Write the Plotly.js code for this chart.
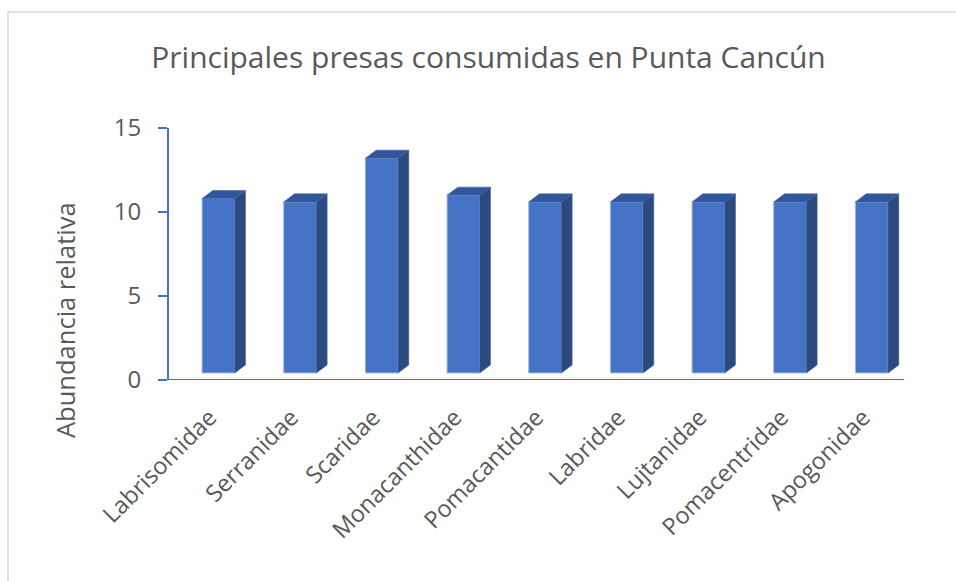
<!DOCTYPE html>
<html>
<head>
<meta charset="utf-8">
<script src="https://cdn.plot.ly/plotly-3.0.1.min.js"></script>
<style>
  html, body { margin: 0; padding: 0; background: #fff; }
  #chart { width: 956px; height: 581px; }
</style>
</head>
<body>
<div id="chart"></div>
<script>
// ---- data ----
const categories = ["Labrisomidae", "Serranidae", "Scaridae", "Monacanthidae", "Pomacantidae",
                    "Labridae", "Lujtanidae", "Pomacentridae", "Apogonidae"];
const values = [10.8, 10.6, 13.2, 11.0, 10.6, 10.6, 10.6, 10.6, 10.6];
const yTickVals = [0, 5, 10, 15];

// ---- style constants (3D look) ----
const FLOOR = 0.42;      // front face floor offset (y units)
const OFF = -0.095;      // front face left offset (x units)
const W = 0.4;           // front face width (x units)
const DX = 0.131;        // depth in x units
const DY = 0.48;         // depth in y units
const FRONT = "#4472C4", SIDE = "#2B4A80", TOP = "#30569C", EDGE = "#9DB4DE";

const idx = categories.map((_, i) => i);

const front = {
  type: "bar",
  x: idx,
  y: values.map(v => v - FLOOR),
  base: FLOOR,
  offset: OFF,
  width: W,
  marker: { color: FRONT, line: { color: EDGE, width: 1 } },
  hoverinfo: "skip",
  showlegend: false
};

const shapes = [];
values.forEach((v, i) => {
  const xl = i + OFF, xr = i + OFF + W;
  shapes.push({
    type: "path", xref: "x", yref: "y", layer: "above",
    path: `M ${xr} ${FLOOR} L ${xr + DX} ${FLOOR + DY} L ${xr + DX} ${v + DY} L ${xr} ${v} Z`,
    fillcolor: SIDE, line: { color: "#3A5A95", width: 0.6 }
  });
  shapes.push({
    type: "path", xref: "x", yref: "y", layer: "above",
    path: `M ${xl} ${v} L ${xl + DX} ${v + DY} L ${xr + DX} ${v + DY} L ${xr} ${v} Z`,
    fillcolor: TOP, line: { color: "#3F64A8", width: 0.6 }
  });
});

const L = 169, R = 904, T = 128, B = 380;
const px = p => (p - L) / (R - L);
const py = p => (B - p) / (B - T);
shapes.push({
  type: "rect", xref: "paper", yref: "paper", layer: "below",
  x0: px(8), x1: px(990), y0: py(620), y1: py(12),
  line: { color: "#D9D9D9", width: 1.5 }, fillcolor: "rgba(0,0,0,0)"
});

const FONT = "Open Sans, sans-serif";
const layout = {
  width: 956, height: 581,
  margin: { l: L, r: 956 - R, t: T, b: 581 - B, pad: 0 },
  paper_bgcolor: "#fff", plot_bgcolor: "#fff",
  font: { family: FONT, color: "#595959" },
  title: {
    text: "Principales presas consumidas en Punta Cancún",
    font: { family: FONT, size: 30, color: "#595959" },
    x: 0.511, xanchor: "center", y: 1 - 57 / 581, yanchor: "middle"
  },
  xaxis: {
    type: "linear",
    range: [-0.5, categories.length - 0.5],
    tickvals: idx, ticktext: categories,
    tickangle: -45,
    ticks: "", showgrid: false, zeroline: false,
    showline: false,
    tickfont: { family: FONT, size: 23.5, color: "#595959" },
    ticklabelstandoff: 18,
    fixedrange: true
  },
  yaxis: {
    range: [0, 15],
    tickvals: yTickVals,
    ticks: "outside", ticklen: 9, tickwidth: 2, tickcolor: FRONT,
    showline: true, linecolor: FRONT, linewidth: 2,
    showgrid: false, zeroline: false,
    tickfont: { family: FONT, size: 24, color: "#595959" },
    ticklabelstandoff: 12,
    fixedrange: true
  },
  shapes: shapes.concat([{
    type: "line", xref: "paper", yref: "y", x0: px(160), x1: 1, y0: 0, y1: 0,
    line: { color: FRONT, width: 2 }, layer: "above"
  }]),
  annotations: [{
    text: "Abundancia relativa", textangle: -90,
    xref: "paper", yref: "paper", x: px(65), y: py(320),
    xanchor: "center", yanchor: "middle", showarrow: false,
    font: { family: FONT, size: 25.5, color: "#595959" }
  }],
  bargap: 0
};

Plotly.newPlot("chart", [front], layout, { displayModeBar: false, staticPlot: true });
</script>
</body>
</html>
